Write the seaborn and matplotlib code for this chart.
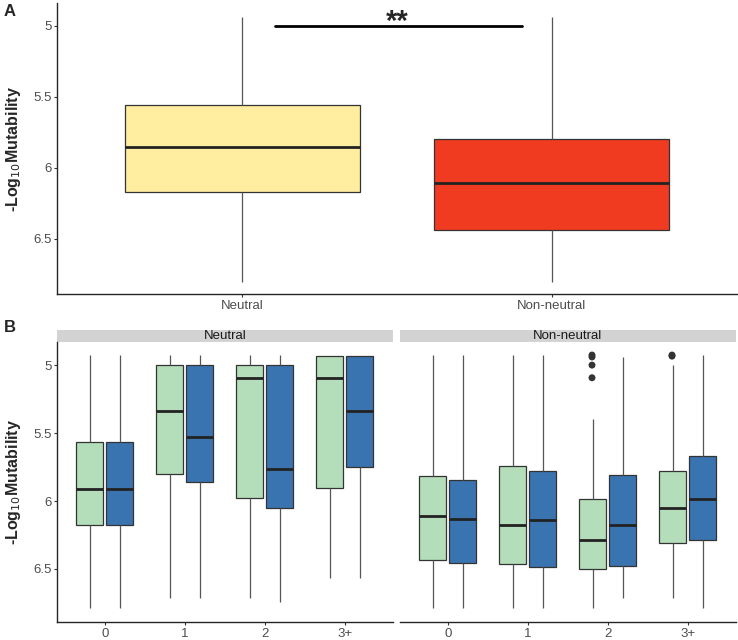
import matplotlib
matplotlib.use("Agg")
import matplotlib.pyplot as plt
import numpy as np
import pandas as pd
import seaborn as sns
from matplotlib.patches import Rectangle

# ---- data (five-number summaries: whislo, q1, median, q3, whishi)
groups = ["Neutral", "Non-neutral"]
panel_a_neutral = [4.94, 5.556, 5.852, 6.169, 6.80]
panel_a_nonneutral = [4.94, 5.796, 6.106, 6.437, 6.80]

cats = ["0", "1", "2", "3+"]
hue_levels = ["Type 1", "Type 2"]
neutral_t1 = [[4.926, 5.569, 5.909, 6.176, 6.789],
              [4.926, 5.000, 5.338, 5.801, 6.711],
              [4.926, 5.000, 5.093, 5.975, 6.711],
              [4.934, 4.934, 5.093, 5.902, 6.564]]
neutral_t2 = [[4.926, 5.569, 5.909, 6.176, 6.789],
              [4.926, 5.000, 5.527, 5.858, 6.711],
              [4.926, 5.000, 5.765, 6.049, 6.740],
              [4.934, 4.934, 5.338, 5.750, 6.564]]
nonneutral_t1 = [[4.926, 5.816, 6.108, 6.434, 6.789],
                 [4.926, 5.743, 6.174, 6.466, 6.789],
                 [5.397, 5.983, 6.287, 6.502, 6.789],
                 [5.000, 5.782, 6.049, 6.309, 6.711]]
nonneutral_t2 = [[4.926, 5.843, 6.135, 6.458, 6.789],
                 [4.926, 5.779, 6.140, 6.483, 6.789],
                 [4.943, 5.806, 6.174, 6.475, 6.711],
                 [4.926, 5.667, 5.983, 6.287, 6.789]]
# outliers (Non-neutral, Type 1)
outlier_cats = ["2", "2", "2", "2", "3+", "3+"]
outlier_vals = [4.926, 4.94, 5.000, 5.093, 4.926, 4.934]

sns.set_theme(style="ticks")
plt.rcParams["font.family"] = ["Liberation Sans", "DejaVu Sans"]

W, H = 738, 640
fig = plt.figure(figsize=(W / 100, H / 100), dpi=100)

box_kw = dict(whis=np.inf, linewidth=0.9, linecolor="#333333", saturation=1,
              medianprops=dict(linewidth=2, color="#222222"),
              whiskerprops=dict(color="#555555", linewidth=0.9),
              capprops=dict(linewidth=0))

def style_axis(ax, left=True):
    sns.despine(ax=ax, left=not left)
    ax.spines["bottom"].set_linewidth(1.0)
    ax.spines["left"].set_linewidth(1.0)
    ax.tick_params(axis="both", labelsize=9.5, colors="#333333", length=2.5,
                   width=0.8, labelcolor="#4d4d4d", pad=1.5)
    ax.set_xlabel("")
    ax.set_ylabel("")
    if not left:
        ax.tick_params(axis="y", left=False, labelleft=False)

ylab = "-Log$_{10}$Mutability"

# ---- panel A
df_a = pd.DataFrame({"group": [groups[0]] * 5 + [groups[1]] * 5,
                     "value": panel_a_neutral + panel_a_nonneutral})
ax_a = fig.add_axes([57 / W, 1 - 294 / H, 680 / W, 291 / H])
sns.boxplot(data=df_a, x="group", y="value", hue="group", order=groups,
            palette=["#FFEDA0", "#F03B20"], width=0.76, legend=False,
            ax=ax_a, **box_kw)
ax_a.set_xlim(-0.6, 1.6)
ax_a.set_ylim(6.887, 4.84)
ax_a.set_yticks([5, 5.5, 6, 6.5], ["5", "5.5", "6", "6.5"])
style_axis(ax_a)
ax_a.plot([0.104, 0.906], [5.0, 5.0], color="black", lw=2)
ax_a.text(0.502, 5.075, "**", ha="center", va="bottom", fontsize=21,
          fontweight="bold")
ax_a.set_ylabel(ylab, fontsize=11.5, fontweight="bold", labelpad=7)

# ---- panel B
rows = []
for grp, series in [("Neutral", [neutral_t1, neutral_t2]),
                    ("Non-neutral", [nonneutral_t1, nonneutral_t2])]:
    for hue, stats in zip(hue_levels, series):
        for c, vals in zip(cats, stats):
            for v in vals:
                rows.append((grp, hue, c, v))
df_b = pd.DataFrame(rows, columns=["group", "type", "cat", "value"])
df_out = pd.DataFrame({"cat": outlier_cats, "value": outlier_vals,
                       "type": [hue_levels[0]] * len(outlier_vals)})

panel_w = 336 / W
for i, grp in enumerate(groups):
    left = [57, 400][i] / W
    ax = fig.add_axes([left, 1 - 622 / H, panel_w, 280 / H])
    sns.boxplot(data=df_b[df_b.group == grp], x="cat", y="value", hue="type",
                order=cats, hue_order=hue_levels,
                palette=["#B3DEB9", "#3A74B0"], width=0.75, gap=0.1,
                legend=False, ax=ax, **box_kw)
    if grp == "Non-neutral":
        sns.stripplot(data=df_out, x="cat", y="value", hue="type", order=cats,
                      hue_order=hue_levels, dodge=True, jitter=False,
                      palette=["#333333", "#333333"], size=5, legend=False,
                      ax=ax)
    ax.set_xlim(-0.6, 3.6)
    ax.set_ylim(6.89, 4.83)
    ax.set_yticks([5, 5.5, 6, 6.5], ["5", "5.5", "6", "6.5"])
    style_axis(ax, left=(i == 0))
    ax.add_patch(Rectangle((0, 1.0), 1, 12 / 280, transform=ax.transAxes,
                           facecolor="#D3D3D3", edgecolor="none",
                           clip_on=False))
    ax.text(0.5, 1 + 6 / 280, grp, transform=ax.transAxes, ha="center",
            va="center", fontsize=9.5, color="#1a1a1a")
    if i == 0:
        ax.set_ylabel(ylab, fontsize=11.5, fontweight="bold", labelpad=7)

fig.text(4 / W, 1 - 12 / H, "A", fontsize=12, fontweight="bold", va="center")
fig.text(4 / W, 1 - 327 / H, "B", fontsize=12, fontweight="bold", va="center")

fig.savefig("out.png", dpi=100)
